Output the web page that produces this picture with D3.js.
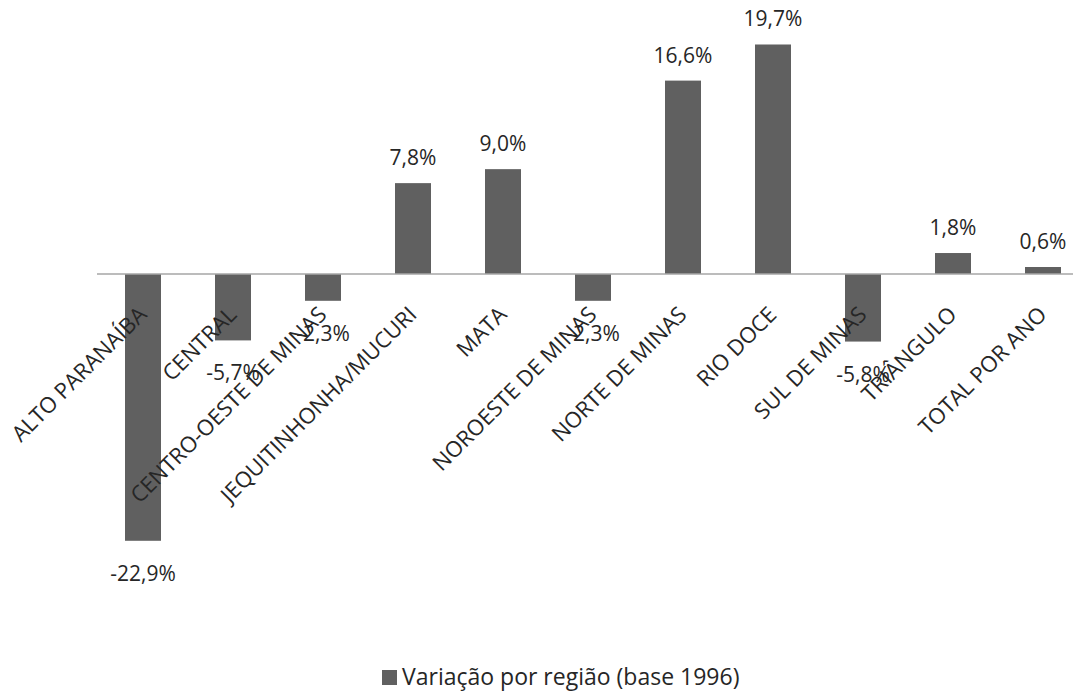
<!DOCTYPE html>
<html>
<head>
<meta charset="utf-8">
<script src="https://cdn.jsdelivr.net/npm/d3@7/dist/d3.min.js"></script>
<style>
  body { margin:0; background:#fff; }
  text { font-family: "Open Sans", sans-serif; fill:#262626; }
</style>
</head>
<body>
<svg id="chart" width="1073" height="692"></svg>
<script>
const regions = ['ALTO PARANAÍBA','CENTRAL','CENTRO-OESTE DE MINAS','JEQUITINHONHA/MUCURI','MATA',
  'NOROESTE DE MINAS','NORTE DE MINAS','RIO DOCE','SUL DE MINAS','TRIÂNGULO','TOTAL POR ANO']
const variacao = [-22.9, -5.7, -2.3, 7.8, 9.0, -2.3, 16.6, 19.7, -5.8, 1.8, 0.6]
const seriesName = 'Variação por região (base 1996)'

let svg = d3.select('#chart')

let x = d3.scaleBand()
  .domain(regions)
  .range([98, 1088])
  .paddingInner(0.6)
  .paddingOuter(0.3)

let y = d3.scaleLinear()
  .domain([-25, 20])
  .range([565.25, 41])

let fmt = v => (v < 0 ? '-' : '') + d3.format('.1f')(Math.abs(v)).replace('.', ',') + '%'

// bars
svg.append('g').selectAll('rect')
  .data(variacao)
  .join('rect')
    .attr('x', (d,i) => x(regions[i]))
    .attr('y', d => y(Math.max(0, d)))
    .attr('width', x.bandwidth())
    .attr('height', d => Math.abs(y(d) - y(0)))
    .attr('fill', '#606060')

// zero axis line
svg.append('line')
  .attr('x1', 97).attr('x2', 1073)
  .attr('y1', y(0)).attr('y2', y(0))
  .attr('stroke', '#a6a6a6')
  .attr('stroke-width', 1.5)

// category labels, rotated
svg.append('g').selectAll('text')
  .data(regions)
  .join('text')
    .attr('transform', d => `translate(${x(d) + x.bandwidth()/2 + 5},${y(0) + 42}) rotate(-45)`)
    .attr('text-anchor', 'end')
    .style('font-size', '22px')
    .text(d => d)

// value labels
svg.append('g').selectAll('text')
  .data(variacao)
  .join('text')
    .attr('x', (d,i) => x(regions[i]) + x.bandwidth()/2)
    .attr('y', d => d >= 0 ? y(d) - 18 : y(d) + 40)
    .attr('text-anchor', 'middle')
    .style('font-size', '21px')
    .text(d => fmt(d))

// legend
let lg = svg.append('g').attr('transform', 'translate(382,670)')
lg.append('rect').attr('width', 15).attr('height', 15).attr('fill', '#606060')
lg.append('text').attr('x', 20).attr('y', 15).style('font-size', '23px').text(seriesName)
</script>
</body>
</html>
